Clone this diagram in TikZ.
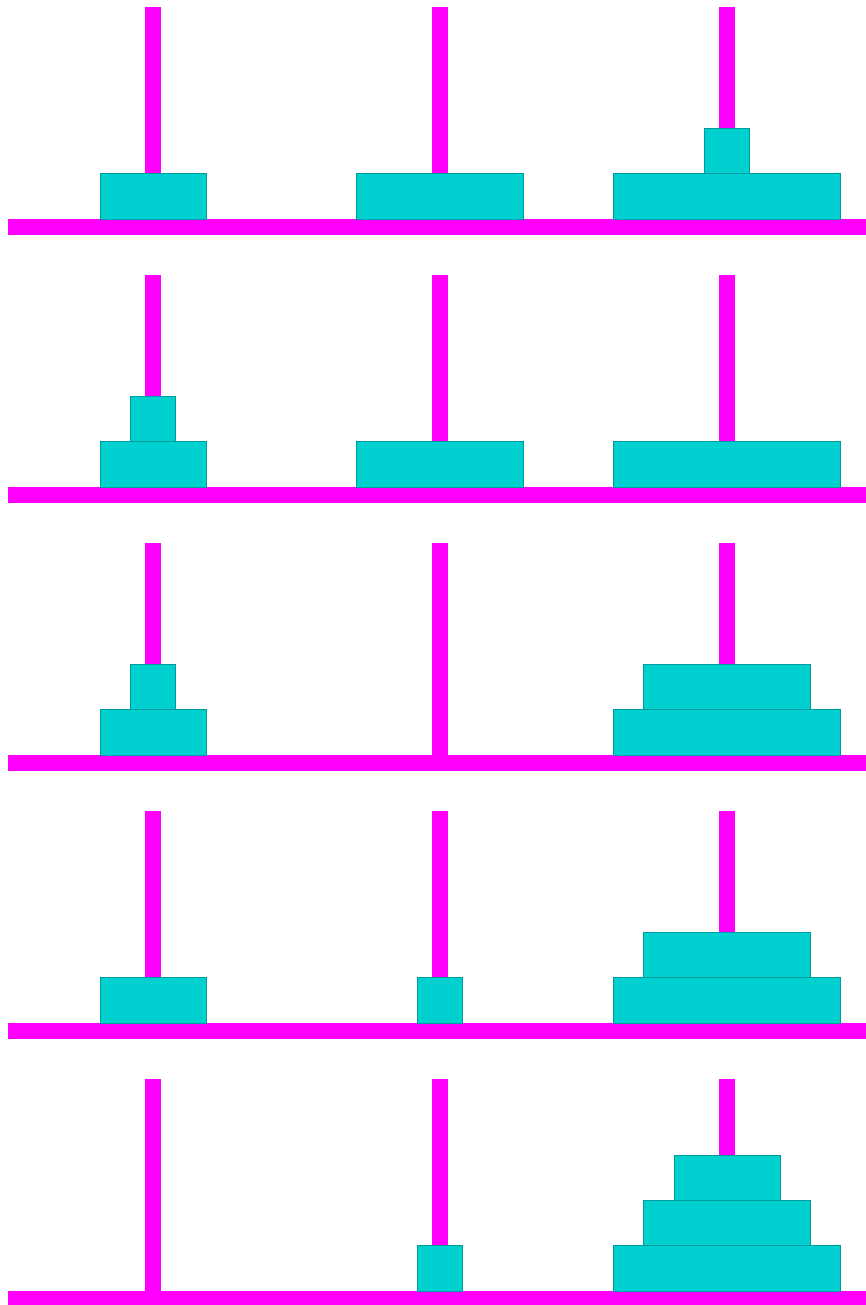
\documentclass[tikz,border=0pt]{standalone}
\usepackage{tikz}
\definecolor{rodpink}{HTML}{FF00FF}
\definecolor{diskfill}{HTML}{00D0D0}
\definecolor{diskline}{HTML}{009C9C}
% one disk: row, peg, size, level
\newcommand{\hdisk}[4]{%
  \pgfmathsetmacro{\dkx}{153+287*#2}%
  \pgfmathsetmacro{\dkw}{(45.5+60.5*#3)/2}%
  \pgfmathsetmacro{\dky}{219+268*#1-45.3*#4}%
  \draw[disk] (\dkx-\dkw,\dky) rectangle (\dkx+\dkw,\dky-45.3);%
}

\begin{document}
\begin{tikzpicture}[
    x=1pt, y=-1pt,
    rod/.style={fill=rodpink, draw=none},
    disk/.style={fill=diskfill, draw=diskline, line width=0.9pt}
]
\useasboundingbox (0,0) rectangle (866,1305);

% pegs and bases
\foreach \r in {0,...,4} {
  \foreach \p in {0,1,2} {
    \fill[rod] (145+287*\p,7+268*\r) rectangle (161+287*\p,219+268*\r);
  }
  \fill[rod] (8,219+268*\r) rectangle (866,235+268*\r);
}

% row 1
\hdisk{0}{0}{1}{0}
\hdisk{0}{1}{2}{0}
\hdisk{0}{2}{3}{0}
\hdisk{0}{2}{0}{1}
% row 2
\hdisk{1}{0}{1}{0}
\hdisk{1}{0}{0}{1}
\hdisk{1}{1}{2}{0}
\hdisk{1}{2}{3}{0}
% row 3
\hdisk{2}{0}{1}{0}
\hdisk{2}{0}{0}{1}
\hdisk{2}{2}{3}{0}
\hdisk{2}{2}{2}{1}
% row 4
\hdisk{3}{0}{1}{0}
\hdisk{3}{1}{0}{0}
\hdisk{3}{2}{3}{0}
\hdisk{3}{2}{2}{1}
% row 5
\hdisk{4}{1}{0}{0}
\hdisk{4}{2}{3}{0}
\hdisk{4}{2}{2}{1}
\hdisk{4}{2}{1}{2}
\end{tikzpicture}
\end{document}
